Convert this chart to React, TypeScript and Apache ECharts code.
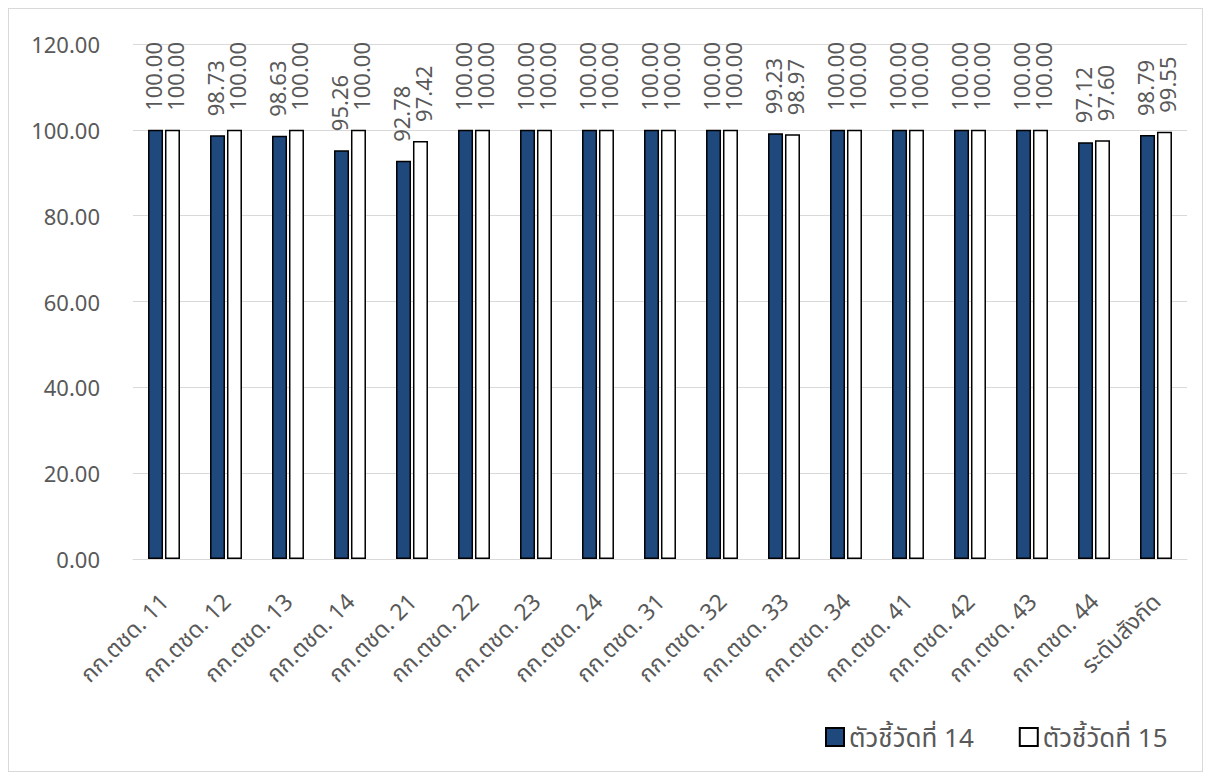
import React, { useEffect, useRef } from "react";
import * as echarts from "echarts";

const categories = [
  "กก.ตชด. 11", "กก.ตชด. 12", "กก.ตชด. 13", "กก.ตชด. 14", "กก.ตชด. 21", "กก.ตชด. 22",
  "กก.ตชด. 23", "กก.ตชด. 24", "กก.ตชด. 31", "กก.ตชด. 32", "กก.ตชด. 33", "กก.ตชด. 34",
  "กก.ตชด. 41", "กก.ตชด. 42", "กก.ตชด. 43", "กก.ตชด. 44", "ระดับสังกัด",
];
const seriesNames = ["ตัวชี้วัดที่ 14", "ตัวชี้วัดที่ 15"];
const indicator14 = [100, 98.73, 98.63, 95.26, 92.78, 100, 100, 100, 100, 100, 99.23, 100, 100, 100, 100, 97.12, 98.79];
const indicator15 = [100, 100, 100, 100, 97.42, 100, 100, 100, 100, 100, 98.97, 100, 100, 100, 100, 97.6, 99.55];

const FONT = "'Noto Sans', 'Noto Sans Thai', 'DejaVu Sans', sans-serif";
const TEXT = "#595959";

export default function App() {
  const ref = useRef<HTMLDivElement>(null);
  useEffect(() => {
    if (!ref.current) return;
    const chart = echarts.init(ref.current, null, { renderer: "svg" });
    const makeLabel = (dx: number) => ({
      show: true,
      position: "top",
      rotate: 90,
      align: "left",
      verticalAlign: "middle",
      distance: 19,
      offset: [0, dx],
      color: TEXT,
      fontSize: 22,
      fontFamily: FONT,
      formatter: (p: any) => Number(p.value).toFixed(2),
    });
    chart.setOption({
      animation: false,
      textStyle: { fontFamily: FONT },
      grid: { left: 125, right: 16, top: 36, bottom: 213, containLabel: false },
      legend: {
        left: 812,
        top: 711,
        itemWidth: 18,
        itemHeight: 18,
        itemGap: 45,
        textStyle: { color: TEXT, fontSize: 26, fontFamily: FONT },
        data: [
          { name: seriesNames[0], icon: "rect" },
          { name: seriesNames[1], icon: "rect" },
        ],
      },
      xAxis: {
        type: "category",
        data: categories,
        axisLine: { show: true, lineStyle: { color: "#d9d9d9", width: 1 } },
        axisTick: { show: false },
        axisLabel: {
          rotate: 45,
          color: TEXT,
          fontSize: 23,
          fontFamily: FONT,
          interval: 0,
          margin: 38,
        },
      },
      yAxis: {
        type: "value",
        min: 0,
        max: 120,
        interval: 20,
        axisLine: { show: false },
        axisTick: { show: false },
        splitLine: { lineStyle: { color: "#d9d9d9", width: 1 } },
        axisLabel: {
          color: TEXT,
          fontSize: 22,
          fontFamily: FONT,
          margin: 33,
          formatter: (v: number) => v.toFixed(2),
        },
      },
      series: [
        {
          name: seriesNames[0],
          type: "bar",
          data: indicator14,
          barWidth: 15,
          barGap: "13%",
          itemStyle: { color: "#1F497D", borderColor: "#000", borderWidth: 1.5 },
          label: makeLabel(-3),
        },
        {
          name: seriesNames[1],
          type: "bar",
          data: indicator15,
          barWidth: 15,
          itemStyle: { color: "#ffffff", borderColor: "#000", borderWidth: 1.5 },
          label: makeLabel(3),
        },
      ],
    });
    return () => chart.dispose();
  }, []);
  return (
    <div
      style={{
        width: 1195,
        height: 764,
        boxSizing: "border-box",
        border: "1px solid #d9d9d9",
        position: "relative",
      }}
    >
      <div ref={ref} style={{ position: "absolute", left: -1, top: -1, width: 1195, height: 764 }} />
    </div>
  );
}
